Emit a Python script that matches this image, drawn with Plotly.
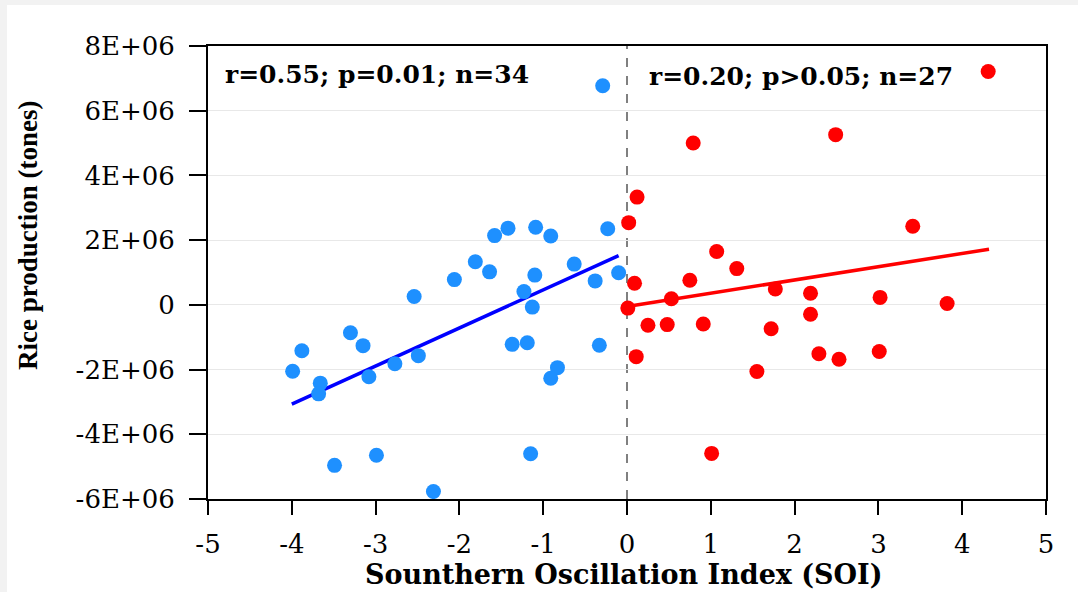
import plotly.graph_objects as go

# ---------------- data ----------------
neg_soi = [-0.29, -1.58, -1.42, -1.09, -0.91, -0.23, -1.81, -1.64, -1.10, -0.63,
           -0.10, -2.06, -0.38, -1.23, -1.13, -2.54, -3.30, -3.88, -3.15, -3.99,
           -3.66, -3.68, -3.08, -2.77, -2.49, -1.37, -1.19, -0.33, -0.83, -0.91,
           -3.49, -2.99, -1.15, -2.31]
neg_rice = [6.77e6, 2.14e6, 2.37e6, 2.40e6, 2.13e6, 2.35e6, 1.33e6, 1.02e6, 0.92e6, 1.26e6,
            0.99e6, 0.78e6, 0.74e6, 0.41e6, -0.07e6, 0.26e6, -0.86e6, -1.42e6, -1.26e6, -2.05e6,
            -2.42e6, -2.75e6, -2.22e6, -1.82e6, -1.57e6, -1.22e6, -1.17e6, -1.25e6, -1.94e6, -2.27e6,
            -4.96e6, -4.65e6, -4.60e6, -5.77e6]

pos_soi = [4.31, 0.79, 2.49, 0.12, 0.02, 3.41, 1.07, 1.31, 0.09, 0.75,
           1.77, 2.19, 3.02, 3.82, 0.53, 0.01, 2.19, 0.25, 0.48, 0.91,
           1.72, 0.11, 2.29, 2.53, 3.01, 1.55, 1.01]
pos_rice = [7.21e6, 5.00e6, 5.26e6, 3.33e6, 2.54e6, 2.43e6, 1.65e6, 1.12e6, 0.67e6, 0.76e6,
            0.49e6, 0.36e6, 0.23e6, 0.04e6, 0.19e6, -0.10e6, -0.29e6, -0.63e6, -0.61e6, -0.59e6,
            -0.74e6, -1.60e6, -1.51e6, -1.68e6, -1.44e6, -2.06e6, -4.59e6]

neg_fit_x = [-4.0, -0.1]
neg_fit_y = [-3.07e6, 1.52e6]
pos_fit_x = [0.0, 4.32]
pos_fit_y = [-0.05e6, 1.72e6]

x_ticks = [-5, -4, -3, -2, -1, 0, 1, 2, 3, 4, 5]
x_tick_labels = ["-5", "-4", "-3", "-2", "-1", "0", "1", "2", "3", "4", "5"]
y_ticks = [8e6, 6e6, 4e6, 2e6, 0, -2e6, -4e6, -6e6]
y_tick_labels = ["8E+06", "6E+06", "4E+06", "2E+06", "0", "-2E+06", "-4E+06", "-6E+06"]

neg_label = "r=0.55; p=0.01; n=34"
pos_label = "r=0.20; p>0.05; n=27"
x_title = "Sounthern Oscillation Index (SOI)"
y_title = "Rice production (tones)"
divider_x = 0

FONT = "DejaVu Serif"
FONT2 = "Liberation Serif"

fig = go.Figure()
fig.add_trace(go.Scatter(x=neg_fit_x, y=neg_fit_y, mode="lines",
                         line=dict(color="#0000FF", width=3.5), showlegend=False))
fig.add_trace(go.Scatter(x=pos_fit_x, y=pos_fit_y, mode="lines",
                         line=dict(color="#FF0000", width=3.5), showlegend=False))
fig.add_trace(go.Scatter(x=neg_soi, y=neg_rice, mode="markers",
                         marker=dict(color="#1E90FF", size=15, line=dict(width=0)),
                         showlegend=False))
fig.add_trace(go.Scatter(x=pos_soi, y=pos_rice, mode="markers",
                         marker=dict(color="#FF0000", size=15, line=dict(width=0)),
                         showlegend=False))

# white page with a light grey strip at top/left
fig.add_shape(type="rect", xref="paper", yref="paper",
              x0=-0.2399, x1=1.2, y0=-0.4, y1=1.0905,
              fillcolor="white", line=dict(width=0), layer="below")

fig.add_shape(type="line", xref="x", yref="paper",
              x0=divider_x, x1=divider_x, y0=0, y1=1,
              line=dict(color="#808080", width=2, dash="dash"), layer="below")

fig.add_annotation(text=neg_label, xref="paper", yref="paper", x=0.018, y=0.938,
                   xanchor="left", yanchor="middle", showarrow=False,
                   font=dict(family=FONT, size=25, color="black", weight="bold"))
fig.add_annotation(text=pos_label, xref="paper", yref="paper", x=0.524, y=0.932,
                   xanchor="left", yanchor="middle", showarrow=False,
                   font=dict(family=FONT, size=25, color="black", weight="bold"))
fig.add_annotation(text=x_title, xref="paper", yref="paper", x=0.497, y=-0.167,
                   xanchor="center", yanchor="middle", showarrow=False,
                   font=dict(family=FONT, size=27, color="black", weight="bold"))
fig.add_annotation(text=y_title, xref="paper", yref="paper", x=-0.2148, y=0.583,
                   xanchor="center", yanchor="middle", showarrow=False, textangle=-90,
                   font=dict(family=FONT2, size=27, color="black", weight="bold"))

fig.update_layout(
    width=1078, height=592,
    margin=dict(l=208, r=32, t=46, b=93),
    paper_bgcolor="#f2f2f2",
    plot_bgcolor="white",
    font=dict(family=FONT, size=26, color="black"),
)
fig.update_xaxes(range=[-5, 5], tickvals=x_ticks, ticktext=x_tick_labels,
                 ticks="outside", ticklen=14,
                 tickwidth=2, tickcolor="black", showline=True, linecolor="black",
                 linewidth=2, mirror=True, showgrid=False, zeroline=False,
                 ticklabelstandoff=7, tickfont=dict(family=FONT, size=26))
fig.update_yaxes(range=[-6e6, 8e6], tickvals=y_ticks, ticktext=y_tick_labels,
                 ticks="outside", ticklen=17, tickwidth=2, tickcolor="black",
                 showline=True, linecolor="black", linewidth=2, mirror=True,
                 showgrid=True, gridcolor="#e8e8e8", gridwidth=1, zeroline=False,
                 ticklabelstandoff=9, tickfont=dict(family=FONT, size=26))

fig.write_html("out.html")
